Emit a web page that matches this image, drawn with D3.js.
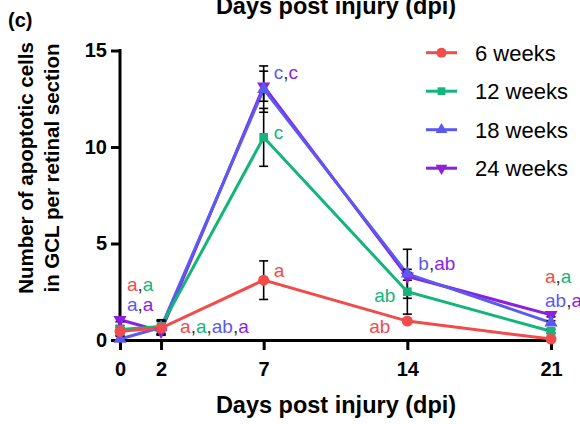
<!DOCTYPE html>
<meta charset="utf-8">
<head>
<style>
  body { margin: 0; background: #fff; }
  svg text { font-family: "Liberation Sans", Arial, sans-serif; }
</style>
</head>
<body>
<div id="chart"></div>
<script src="https://d3js.org/d3.v7.min.js"></script>
<script>

// data
var days = [0, 2, 7, 14, 21];
var seriesNames = ["6 weeks", "12 weeks", "18 weeks", "24 weeks"];
var w6  = [0.45, 0.62, 3.1, 0.98, 0.05];
var w12 = [0.55, 0.70, 10.5, 2.5, 0.45];
var w18 = [0.05, 0.65, 13.0, 3.43, 0.9];
var w24 = [1.05, 0.45, 13.15, 3.3, 1.3];
var err6  = [0.2, 0.35, 1.0, 0.1, 0.05];
var err12 = [0.2, 0.35, 1.5, 1.16, 0.1];
var err18 = [0.15, 0.35, 1.2, 1.27, 0.1];
var err24 = [0.1, 0.2, 0.78, 0.2, 0.1];
var yTicks = [0, 5, 10, 15];

// significance letters: [text, series index] (-1 = separator)
var annotations = [
  {day: 0,  level: 2.55, parts: [["a",0],[",",-1],["a",1]]},
  {day: 0,  level: 1.5,  parts: [["a",2],[",",-1],["a",3]]},
  {day: 2,  level: 0.36, parts: [["a",0],[",",-1],["a",1],[",",-1],["ab",2],[",",-1],["a",3]]},
  {day: 7,  level: 3.26, parts: [["a",0]]},
  {day: 7,  level: 13.5, parts: [["c",2],[",",-1],["c",3]]},
  {day: 7,  level: 10.4, parts: [["c",1]]},
  {day: 14, level: 3.63, parts: [["b",2],[",",-1],["ab",3]]},
  {day: 14, level: 1.98, parts: [["ab",1]]},
  {day: 14, level: 0.36, parts: [["ab",0]]},
  {day: 21, level: 2.95, parts: [["a",0],[",",-1],["a",1]]},
  {day: 21, level: 1.7,  parts: [["ab",2],[",",-1],["a",3]]}
];
// horizontal offset of each annotation from its day (px), and anchor
var annDx = [7, 7, 19, 10, 10, 10, 11, -12, -17, -6, -6];
var annAnchor = ["start","start","start","start","start","start","start","end","end","start","start"];

var colors = ["#f24b4b", "#14b57a", "#5a5af0", "#8e1ee0"];
var symbols = [d3.symbolCircle, d3.symbolSquare, d3.symbolTriangle, d3.symbolTriangle];

var W = 580, H = 424;
var svg = d3.select("#chart").append("svg")
  .attr("width", W).attr("height", H);

var x = d3.scaleLinear().domain([0, 21]).range([120, 551]);
var y = d3.scaleLinear().domain([0, 15]).range([340, 50.5]);

var series = [w6, w12, w18, w24].map(function(vals, i) {
  var errs = [err6, err12, err18, err24][i];
  return days.map(function(d, j) { return {day: d, v: vals[j], e: errs[j], s: i}; });
});

// axes
var yAxis = svg.append("g")
  .attr("transform", "translate(120,0)")
  .call(d3.axisLeft(y).tickValues(yTicks).tickSize(9).tickPadding(4).tickSizeOuter(0));
var xAxis = svg.append("g")
  .attr("transform", "translate(0,340)")
  .call(d3.axisBottom(x).tickValues(days).tickSize(10).tickPadding(12).tickSizeOuter(0));
[yAxis, xAxis].forEach(function(a) {
  a.selectAll("path, line").attr("stroke", "#000").attr("stroke-width", 3);
  a.selectAll("text").attr("fill", "#000")
    .style("font-size", "20px").style("font-weight", "bold");
});
yAxis.select(".domain").attr("d", "M0," + (y(15) - 1.5) + "V" + y(0));

// lines (purple at back, red in front)
var line = d3.line().x(function(d) { return x(d.day); }).y(function(d) { return y(d.v); });
var order = [3, 2, 1, 0];
order.forEach(function(i) {
  svg.append("path")
    .datum(series[i])
    .attr("d", line)
    .attr("fill", "none")
    .attr("stroke", colors[i])
    .attr("stroke-width", 3);
});

// error bars
order.forEach(function(i) {
  var g = svg.append("g").attr("stroke", "#000").attr("stroke-width", 1.6);
  series[i].forEach(function(d) {
    g.append("line").attr("x1", x(d.day)).attr("x2", x(d.day))
      .attr("y1", y(d.v + d.e)).attr("y2", y(Math.max(0, d.v - d.e)));
    [d.v + d.e, Math.max(0, d.v - d.e)].forEach(function(v) {
      g.append("line").attr("x1", x(d.day) - 4.5).attr("x2", x(d.day) + 4.5)
        .attr("y1", y(v)).attr("y2", y(v));
    });
  });
});

// markers
order.forEach(function(i) {
  svg.selectAll(null)
    .data(series[i])
    .enter().append("path")
    .attr("d", d3.symbol().type(symbols[i]).size(i === 0 ? 95 : 75))
    .attr("transform", function(d) {
      return "translate(" + x(d.day) + "," + y(d.v) + ")" + (i === 3 ? " rotate(180)" : "");
    })
    .attr("fill", colors[i]);
});

// significance letters
annotations.forEach(function(a, k) {
  var t = svg.append("text")
    .attr("x", x(a.day) + annDx[k])
    .attr("y", y(a.level))
    .attr("text-anchor", annAnchor[k])
    .style("font-size", "19px");
  a.parts.forEach(function(p) {
    t.append("tspan").text(p[0]).attr("fill", p[1] < 0 ? "#333" : colors[p[1]]);
  });
});

// legend
var legend = svg.append("g");
seriesNames.forEach(function(name, i) {
  var ly = 52.7 + i * 38.5;
  legend.append("line").attr("x1", 426).attr("x2", 457).attr("y1", ly).attr("y2", ly)
    .attr("stroke", colors[i]).attr("stroke-width", 3);
  legend.append("path")
    .attr("d", d3.symbol().type(symbols[i]).size(i === 0 ? 80 : 60))
    .attr("transform", "translate(441.5," + ly + ")" + (i === 3 ? " rotate(180)" : ""))
    .attr("fill", colors[i]);
  legend.append("text").attr("x", 475).attr("y", ly + 8)
    .style("font-size", "22px").attr("fill", "#000").text(name);
});

// titles
svg.append("text").attr("x", 8).attr("y", 27)
  .style("font-size", "20px").style("font-weight", "bold").text("(c)");
svg.append("text").attr("x", 336).attr("y", 14).attr("text-anchor", "middle")
  .style("font-size", "23.5px").style("font-weight", "bold").text("Days post injury (dpi)");
svg.append("text").attr("x", 336).attr("y", 413).attr("text-anchor", "middle")
  .style("font-size", "23.5px").style("font-weight", "bold").text("Days post injury (dpi)");
var yl = svg.append("text").attr("transform", "translate(33,168) rotate(-90)")
  .attr("text-anchor", "middle").style("font-size", "20.5px").style("font-weight", "bold");
yl.append("tspan").attr("x", 0).attr("y", 0).text("Number of apoptotic cells");
yl.append("tspan").attr("x", 0).attr("y", 26).text("in GCL per retinal section");

</script>
</body>
